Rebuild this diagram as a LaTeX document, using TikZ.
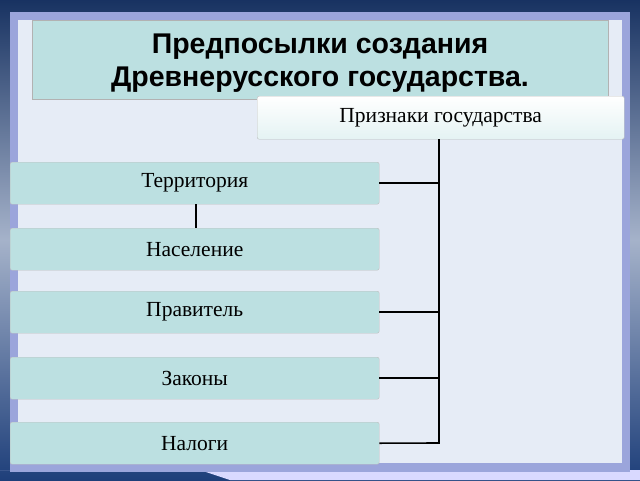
\documentclass[tikz,border=0pt]{standalone}
\usepackage{fontspec}
\setmainfont{Liberation Serif}
\newfontfamily\titlefont{Liberation Sans}
\begin{document}
\begin{tikzpicture}[x=1pt,y=-1pt,
  item/.style={draw=gray!50,fill=boxc,rounded corners=2pt,minimum width=369pt,minimum height=42pt,font=\fontsize{21.5}{24}\selectfont,inner sep=0pt},
  link/.style={line width=1.6pt,black}]
\definecolor{boxc}{HTML}{BCE0E1}
\definecolor{panel}{HTML}{E6ECF6}
\definecolor{dblue}{HTML}{1E3F7A}
\useasboundingbox (0,0) rectangle (640,480);
\shade[top color=dblue!80!black,bottom color=dblue,middle color=white!60!dblue] (0,0) rectangle (640,480);
\fill[white!85!blue] (0,470) -- (640,470) -- (640,480) -- (230,480) -- (200,470);
\fill[cyan!30!blue!40] (10,12) rectangle (630,472);
\fill[panel] (18,20) rectangle (622,463);
\node[draw=gray!60,fill=boxc,minimum width=576pt,minimum height=79pt,inner sep=0pt,anchor=north west] (title) at (32,20) {};
\node[font=\titlefont\bfseries\fontsize{28.5}{33}\selectfont,align=center] (tt) at (320,63) {Предпосылки создания\\Древнерусского государства.};
\node[item,top color=white,bottom color=boxc!40,minimum width=367pt,minimum height=43pt,anchor=north west] (pr) at (257,96) {Признаки государства};
\node[item,anchor=north west] (t) at (10,162) {Территория};
\node[item,anchor=north west] (n) at (10,228) {Население};
\node[item,anchor=north west] (p) at (10,291) {Правитель};
\node[item,anchor=north west] (z) at (10,357) {Законы};
\node[item,anchor=north west] (l) at (10,422) {Налоги};
\coordinate (top) at (439,139);
\draw[link] (top) -- (439,443) -- (l.east);
\draw[link] (t.east) -- (t.east -| top);
\draw[link] (p.east) -- (p.east -| top);
\draw[link] (z.east) -- (z.east -| top);
\draw[link] (196,204) -- (196,228);
\end{tikzpicture}
\end{document}
